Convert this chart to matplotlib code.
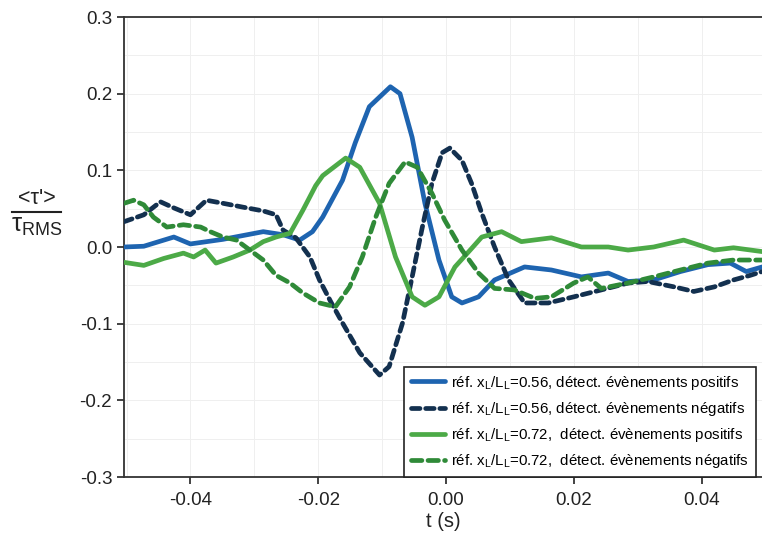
import matplotlib
matplotlib.use("Agg")
import matplotlib.pyplot as plt
from matplotlib.lines import Line2D
from matplotlib.ticker import MultipleLocator

plt.rcParams['font.family'] = ['Liberation Sans', 'DejaVu Sans']
plt.rcParams['mathtext.fontset'] = 'custom'
plt.rcParams['mathtext.rm'] = 'Liberation Sans'
plt.rcParams['mathtext.it'] = 'Liberation Sans'
plt.rcParams['mathtext.default'] = 'regular'

# Series data (t in s, normalised stress)
t_pos56 = [-0.0504, -0.0473, -0.0426, -0.0400, -0.0349, -0.0286, -0.0255, -0.0229, -0.0209,
           -0.0193, -0.0162, -0.0142, -0.0120, -0.0087, -0.0072, -0.0053, -0.0033, -0.0011,
           0.0009, 0.0025, 0.0051, 0.0076, 0.0123, 0.0165, 0.0212, 0.0254, 0.0285, 0.0325,
           0.0367, 0.0410, 0.0445, 0.0470, 0.0495]
v_pos56 = [0.000, 0.001, 0.013, 0.004, 0.010, 0.020, 0.016, 0.009, 0.020,
           0.039, 0.087, 0.136, 0.183, 0.209, 0.200, 0.143, 0.057, -0.017,
           -0.065, -0.073, -0.065, -0.043, -0.026, -0.030, -0.039, -0.034, -0.045, -0.043,
           -0.032, -0.023, -0.021, -0.032, -0.026]

t_neg56 = [-0.0504, -0.0473, -0.0447, -0.0426, -0.0400, -0.0375, -0.0349, -0.0318, -0.0286,
           -0.0266, -0.0255, -0.0235, -0.0213, -0.0198, -0.0180, -0.0162, -0.0135, -0.0104,
           -0.0089, -0.0068, -0.0053, -0.0037, -0.0022, -0.0006, 0.0006, 0.0025, 0.0040,
           0.0056, 0.0076, 0.0098, 0.0123, 0.0160, 0.0200, 0.0243, 0.0285, 0.0316, 0.0357,
           0.0388, 0.0420, 0.0450, 0.0476, 0.0495]
v_neg56 = [0.033, 0.042, 0.059, 0.051, 0.042, 0.061, 0.057, 0.052, 0.047,
           0.042, 0.022, 0.012, -0.013, -0.043, -0.072, -0.099, -0.138, -0.167,
           -0.156, -0.099, -0.039, 0.026, 0.083, 0.123, 0.129, 0.113, 0.083,
           0.044, 0.000, -0.043, -0.073, -0.073, -0.065, -0.056, -0.047, -0.045, -0.052,
           -0.058, -0.052, -0.043, -0.037, -0.032]

t_pos72 = [-0.0504, -0.0473, -0.0442, -0.0411, -0.0395, -0.0377, -0.0360, -0.0333, -0.0307,
           -0.0286, -0.0266, -0.0244, -0.0224, -0.0204, -0.0193, -0.0157, -0.0135, -0.0104,
           -0.0079, -0.0053, -0.0033, -0.0011, 0.0014, 0.0040, 0.0056, 0.0087, 0.0118,
           0.0165, 0.0212, 0.0254, 0.0285, 0.0325, 0.0372, 0.0420, 0.0450, 0.0495]
v_pos72 = [-0.020, -0.024, -0.015, -0.008, -0.013, -0.004, -0.021, -0.013, -0.004,
           0.007, 0.013, 0.018, 0.048, 0.080, 0.093, 0.116, 0.104, 0.057,
           -0.013, -0.065, -0.076, -0.065, -0.026, -0.002, 0.013, 0.020, 0.007,
           0.012, 0.000, 0.000, -0.004, 0.000, 0.009, -0.004, -0.001, -0.006]

t_neg72 = [-0.0504, -0.0489, -0.0473, -0.0458, -0.0437, -0.0411, -0.0384, -0.0369, -0.0349,
           -0.0328, -0.0307, -0.0286, -0.0266, -0.0244, -0.0224, -0.0198, -0.0173, -0.0151,
           -0.0131, -0.0110, -0.0089, -0.0064, -0.0045, -0.0022, -0.0002, 0.0025, 0.0051,
           0.0076, 0.0107, 0.0139, 0.0165, 0.0200, 0.0222, 0.0243, 0.0285, 0.0325, 0.0367,
           0.0410, 0.0450, 0.0495]
v_neg72 = [0.057, 0.061, 0.055, 0.039, 0.026, 0.029, 0.026, 0.020, 0.013,
           0.009, -0.004, -0.017, -0.037, -0.047, -0.060, -0.073, -0.078, -0.052,
           -0.013, 0.039, 0.083, 0.111, 0.104, 0.070, 0.035, -0.004, -0.034,
           -0.054, -0.056, -0.067, -0.065, -0.047, -0.039, -0.054, -0.047, -0.039, -0.030,
           -0.021, -0.017, -0.017]

labels = [
    r"réf. x$_{L}$/L$_{L}$=0.56, détect. évènements positifs",
    r"réf. x$_{L}$/L$_{L}$=0.56, détect. évènements négatifs",
    r"réf. x$_{L}$/L$_{L}$=0.72,  détect. évènements positifs",
    r"réf. x$_{L}$/L$_{L}$=0.72,  détect. évènements négatifs",
]
xticks = [-0.04, -0.02, 0.00, 0.02, 0.04]
yticks = [-0.3, -0.2, -0.1, 0.0, 0.1, 0.2, 0.3]

W, H = 762, 537
fig = plt.figure(figsize=(W / 100, H / 100), dpi=100)
ax = fig.add_axes([124 / W, 1 - 477 / H, 1 - 124 / W + 0.002, (477 - 17) / H])

lw = 3.4
ax.plot(t_pos56, v_pos56, color='#1e64b0', lw=lw, solid_capstyle='round',
        solid_joinstyle='round', label=labels[0], zorder=3)
ax.plot(t_neg56, v_neg56, color='#13304f', lw=lw, linestyle=(0, (1.8, 1.2)),
        dash_capstyle='round', label=labels[1], zorder=3)
ax.plot(t_pos72, v_pos72, color='#4caa47', lw=lw, solid_capstyle='round',
        solid_joinstyle='round', label=labels[2], zorder=3)
ax.plot(t_neg72, v_neg72, color='#2f8a38', lw=lw, linestyle=(0, (2.2, 1.3)),
        dash_capstyle='round', label=labels[3], zorder=3)

ax.set_xlim(-0.0504, 0.0497)
ax.set_ylim(-0.3, 0.3)
ax.set_xticks(xticks)
ax.set_xticklabels([f"{v:.2f}" for v in xticks])
ax.set_yticks(yticks)
ax.set_yticklabels([f"{v:.1f}" for v in yticks])
ax.xaxis.set_minor_locator(MultipleLocator(0.01))
ax.yaxis.set_minor_locator(MultipleLocator(0.05))
ax.grid(True, which='both', color='#efefef', lw=0.7, zorder=0)
ax.tick_params(which='minor', length=0)
ax.tick_params(which='major', direction='out', length=5, width=1.2,
               labelsize=13.5, colors='#222222')
ax.tick_params(axis='x', pad=6)
for s in ['left', 'bottom', 'top']:
    ax.spines[s].set_color('#333333')
    ax.spines[s].set_linewidth(1.3)
ax.spines['right'].set_visible(False)

ax.set_xlabel('t (s)', fontsize=14.5, labelpad=2, color='#222222')

# y label as a stacked fraction
fig.text(37 / W, 1 - 199 / H, "<τ'>", fontsize=15.5, ha='center', va='center',
         color='#222222')
fig.add_artist(Line2D([12 / W, 61 / W], [1 - 212 / H, 1 - 212 / H],
                      color='#222222', lw=1.5))
fig.text(37 / W, 1 - 226 / H, r"$\tau_{RMS}$", fontsize=18.5, ha='center',
         va='center', color='#222222')

leg = ax.legend(loc='lower left', bbox_to_anchor=((404 - 124) / 639.5, 0.0),
                fontsize=10.8, frameon=True, fancybox=False, edgecolor='#222222',
                framealpha=1, borderpad=0.45, labelspacing=0.55, handlelength=2.3,
                handletextpad=0.4, borderaxespad=0)
leg.get_frame().set_linewidth(1.2)

fig.savefig('out.png', dpi=100)
